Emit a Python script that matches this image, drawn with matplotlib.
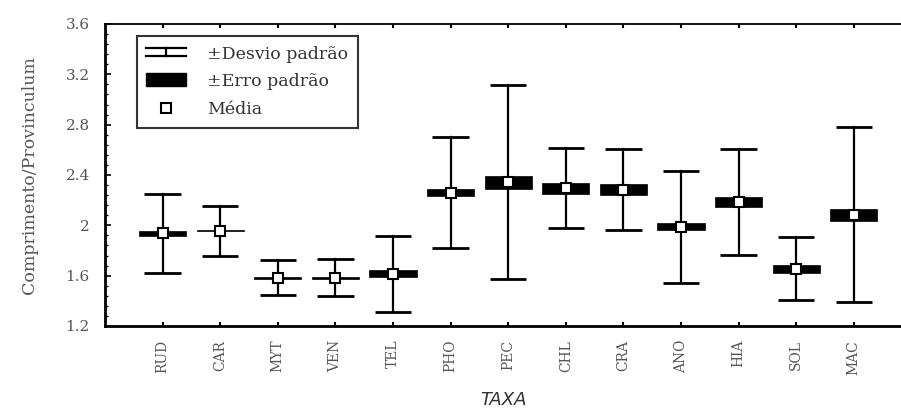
import numpy as np
import matplotlib
matplotlib.use("Agg")
import matplotlib.pyplot as plt
from matplotlib.patches import Rectangle
from matplotlib.lines import Line2D
from matplotlib.legend_handler import HandlerBase
from matplotlib.ticker import FuncFormatter, MultipleLocator

plt.rcParams["font.family"] = ["DejaVu Serif"]

taxa = ["RUD", "CAR", "MYT", "VEN", "TEL", "PHO", "PEC", "CHL", "CRA", "ANO", "HIA", "SOL", "MAC"]
media = [1.937, 1.958, 1.585, 1.585, 1.615, 2.260, 2.343, 2.295, 2.283, 1.990, 2.183, 1.655, 2.085]
desvio = [0.314, 0.198, 0.138, 0.150, 0.300, 0.438, 0.773, 0.318, 0.320, 0.445, 0.420, 0.252, 0.697]
erro = [0.018, 0.005, 0.008, 0.008, 0.028, 0.027, 0.052, 0.043, 0.045, 0.028, 0.039, 0.031, 0.048]

cinza = "#555555"
larg_caixa, larg_cap = 0.82, 0.63


class HandlerDesvio(HandlerBase):
    # símbolo "工" deitado para o desvio padrão
    def create_artists(self, legend, orig, x0, y0, w, h, fs, trans):
        xm = x0 + w / 2
        yb, yt = y0 + 0.15 * h, y0 + 0.85 * h
        return [Line2D([x0, x0 + w], [yt, yt], color="k", lw=1.6, transform=trans),
                Line2D([x0, x0 + w], [yb, yb], color="k", lw=1.6, transform=trans),
                Line2D([xm, xm], [yb, yt], color="k", lw=1.6, transform=trans)]


class HandlerErro(HandlerBase):
    def create_artists(self, legend, orig, x0, y0, w, h, fs, trans):
        return [Rectangle((x0, y0), w, h, fc="k", ec="k", transform=trans)]


fig = plt.figure(figsize=(9.01, 4.15), dpi=100)
ax = fig.add_axes([0.1165, 0.2145, 0.8835, 0.7277])

x = np.arange(len(taxa))
for xi, m, sd, se in zip(x, media, desvio, erro):
    ax.plot([xi, xi], [m - sd, m + sd], color="k", lw=1.6, zorder=2)
    for yy in (m - sd, m + sd):
        ax.plot([xi - larg_cap / 2, xi + larg_cap / 2], [yy, yy], color="k", lw=2.0,
                solid_capstyle="butt", zorder=2)
    alt = max(2 * se, 0.014)
    ax.add_patch(Rectangle((xi - larg_caixa / 2, m - alt / 2), larg_caixa, alt,
                           fc="k", ec="k", lw=0.5, zorder=3))
ax.plot(x, media, ls="none", marker="s", ms=6.5, mfc="white", mec="k", mew=1.5, zorder=4)

ax.set_xlim(-1.0, 12.82)
ax.set_ylim(1.2, 3.6)
ax.set_xticks(x)
ax.set_xticklabels(taxa, rotation=90, fontsize=10, color=cinza)
ax.yaxis.set_major_locator(MultipleLocator(0.4))
ax.yaxis.set_minor_locator(MultipleLocator(0.08))
ax.yaxis.set_major_formatter(FuncFormatter(lambda v, p: f"{v:g}"))
ax.tick_params(axis="y", labelsize=11, colors="k", labelcolor=cinza, direction="in",
               length=4, width=1.2, pad=11)
ax.tick_params(axis="y", which="minor", direction="in", length=2.5, width=1)
ax.tick_params(axis="x", direction="in", length=3, width=1.5, top=True, pad=10)

ax.spines["right"].set_visible(False)
ax.spines["left"].set_linewidth(2)
ax.spines["bottom"].set_linewidth(2)
ax.spines["top"].set_linewidth(1.3)

ax.set_ylabel("Comprimento/Provinculum", fontsize=12.5, color=cinza, labelpad=20)
ax.set_xlabel("TAXA", fontsize=13, color="#333333", style="italic",
              family="DejaVu Sans", labelpad=12)

h1, h2 = object(), object()
h3 = Line2D([], [], ls="none", marker="s", ms=6.5, mfc="white", mec="k", mew=1.5)
leg = ax.legend([h1, h2, h3], ["±Desvio padrão", "±Erro padrão", "Média"],
                handler_map={h1: HandlerDesvio(), h2: HandlerErro()},
                loc="upper left", bbox_to_anchor=(0.04, 0.96), borderaxespad=0,
                fontsize=12.5, frameon=True, fancybox=False, edgecolor="k",
                handlelength=2.3, handleheight=0.75, labelspacing=0.62,
                borderpad=0.55, handletextpad=1.2)
leg.get_frame().set_linewidth(1.5)
for t in leg.get_texts():
    t.set_color("#333333")

fig.savefig("out.png", dpi=100)
